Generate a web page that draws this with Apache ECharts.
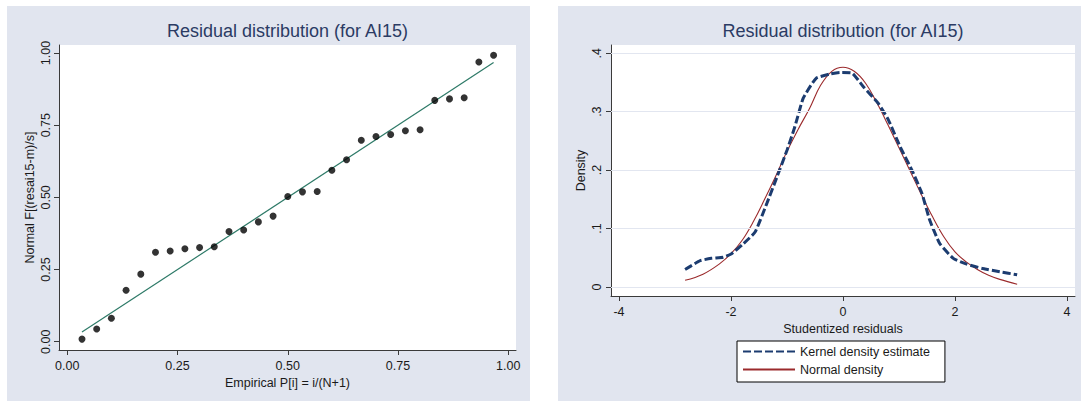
<!DOCTYPE html>
<html>
<head>
<meta charset="utf-8">
<script src="https://cdn.jsdelivr.net/npm/echarts@6/dist/echarts.min.js"></script>
<style>
html,body{margin:0;padding:0;background:#fff;}
#chart{width:1081px;height:401px;}
</style>
</head>
<body>
<div id="chart"></div>
<script>
// ---- Data ----
const titleText = 'Residual distribution (for AI15)';

// Left panel: standardized normal probability plot
const empiricalP = [0.0333,0.0667,0.1000,0.1333,0.1667,0.2000,0.2333,0.2667,0.3000,0.3333,0.3667,0.4000,0.4333,0.4667,0.5000,0.5333,0.5667,0.6000,0.6333,0.6667,0.7000,0.7333,0.7667,0.8000,0.8333,0.8667,0.9000,0.9333,0.9667];
const normalF = [0.009,0.044,0.081,0.178,0.234,0.310,0.314,0.322,0.326,0.329,0.382,0.387,0.415,0.435,0.503,0.519,0.520,0.594,0.630,0.698,0.711,0.718,0.731,0.734,0.836,0.841,0.845,0.969,0.992];
const refLineX = [0.0333,0.9667];
const refLineY = [0.0333,0.9667];
const probTicks = [0,0.25,0.5,0.75,1];
const probTickLabels = ['0.00','0.25','0.50','0.75','1.00'];

// Right panel: kernel density vs normal density
const kdeX = [-2.82,-2.55,-2.35,-2.14,-1.99,-1.78,-1.57,-1.36,-1.18,-1.00,-0.86,-0.71,-0.48,-0.23,-0.05,0.16,0.36,0.63,0.81,1.02,1.23,1.41,1.55,1.73,1.97,2.21,2.50,2.80,3.11];
const kdeY = [0.030,0.045,0.049,0.051,0.057,0.074,0.094,0.143,0.188,0.234,0.274,0.323,0.357,0.3645,0.367,0.366,0.343,0.314,0.286,0.240,0.200,0.160,0.114,0.074,0.049,0.039,0.0315,0.026,0.021];
const normX = [-2.82,-2.5,-2.2,-2.0,-1.8,-1.6,-1.4,-1.2,-1.0,-0.8,-0.6,-0.4,-0.2,0,0.2,0.4,0.6,0.8,1.0,1.2,1.4,1.6,1.8,2.0,2.2,2.4,2.6,2.8,3.11];
const normY = [0.0115,0.022,0.040,0.057,0.080,0.112,0.150,0.190,0.232,0.270,0.305,0.345,0.369,0.376,0.369,0.349,0.316,0.278,0.238,0.198,0.158,0.120,0.086,0.060,0.043,0.030,0.020,0.013,0.0046];
const resTicks = [-4,-2,0,2,4];
const resTickLabels = ['-4','-2','0','2','4'];
const densTicks = [0,0.1,0.2,0.3,0.4];
const densTickLabels = ['0','.1','.2','.3','.4'];
const legendNames = ['Kernel density estimate','Normal density'];

// ---- Styles ----
const FONT = '"Liberation Sans", Arial, Helvetica, sans-serif';
const panelBg = '#e1e5ef';
const titleColor = '#2b3b64';
const textColor = '#1a1a1a';
const axisColor = '#3a3a3a';
const fs = 12.5;

function pairs(xs, ys){ return xs.map((x,i)=>[x, ys[i]]); }
function lab(ticks, labels){ return v => { const i = ticks.findIndex(t => Math.abs(t - v) < 1e-9); return i >= 0 ? labels[i] : ''; }; }

function axisCommon(){
  return {
    type: 'value',
    axisLine: {show: true, onZero: false, lineStyle: {color: axisColor, width: 1}},
    splitLine: {show: false},
    nameLocation: 'middle',
    nameTextStyle: {fontSize: fs, color: textColor, fontFamily: FONT},
  };
}

const chart = echarts.init(document.getElementById('chart'), null, {renderer: 'svg'});
const option = {
  animation: false,
  backgroundColor: '#ffffff',
  textStyle: {fontFamily: FONT},
  graphic: [
    {type: 'rect', z: -10, silent: true, shape: {x: 7, y: 6, width: 523, height: 395}, style: {fill: panelBg}},
    {type: 'rect', z: -10, silent: true, shape: {x: 558, y: 6, width: 523, height: 395}, style: {fill: panelBg}}
  ],
  title: [
    {text: titleText, left: 287.5, top: 22, textAlign: 'center', padding: 0,
     textStyle: {fontSize: 18, fontWeight: 'normal', color: titleColor, fontFamily: FONT}},
    {text: titleText, left: 843, top: 22, textAlign: 'center', padding: 0,
     textStyle: {fontSize: 18, fontWeight: 'normal', color: titleColor, fontFamily: FONT}}
  ],
  grid: [
    {left: 59, top: 45, width: 457, height: 305, show: true, backgroundColor: '#ffffff', borderWidth: 0},
    {left: 611, top: 45, width: 464, height: 251, show: true, backgroundColor: '#ffffff', borderWidth: 0}
  ],
  xAxis: [
    Object.assign(axisCommon(), {
      gridIndex: 0, min: -0.0188, max: 1.0175,
      axisTick: {show: true, customValues: probTicks, length: 5, lineStyle: {color: axisColor}},
      axisLabel: {customValues: probTicks, formatter: lab(probTicks, probTickLabels), fontSize: fs, color: textColor, margin: 9, fontFamily: FONT},
      name: 'Empirical P[i] = i/(N+1)', nameGap: 22
    }),
    Object.assign(axisCommon(), {
      gridIndex: 1, min: -4.143, max: 4.143,
      axisTick: {show: true, customValues: resTicks, length: 5, lineStyle: {color: axisColor}},
      axisLabel: {customValues: resTicks, formatter: lab(resTicks, resTickLabels), fontSize: fs, color: textColor, margin: 9, fontFamily: FONT},
      name: 'Studentized residuals', nameGap: 22
    })
  ],
  yAxis: [
    Object.assign(axisCommon(), {
      gridIndex: 0, min: -0.0287, max: 1.0277,
      axisTick: {show: true, customValues: probTicks, length: 5, lineStyle: {color: axisColor}},
      axisLabel: {customValues: probTicks, formatter: lab(probTicks, probTickLabels), rotate: 90, fontSize: fs, color: textColor, margin: 7, fontFamily: FONT},
      name: 'Normal F[(resai15-m)/s]', nameGap: 23
    }),
    Object.assign(axisCommon(), {
      gridIndex: 1, min: -0.0154, max: 0.414,
      axisTick: {show: true, customValues: densTicks, length: 5, lineStyle: {color: axisColor}},
      axisLabel: {customValues: densTicks, formatter: lab(densTicks, densTickLabels), rotate: 90, fontSize: fs, color: textColor, margin: 8, fontFamily: FONT},
      name: 'Density', nameGap: 24
    })
  ],
  legend: {
    data: legendNames,
    orient: 'vertical',
    left: 737, top: 341,
    itemWidth: 52, itemHeight: 14, itemGap: 5,
    padding: [4, 15, 6, 5],
    borderColor: '#000', borderWidth: 1, backgroundColor: '#ffffff',
    itemStyle: {opacity: 0, borderWidth: 0},
    textStyle: {fontSize: fs, color: textColor, fontFamily: FONT},
    selectedMode: false
  },
  series: [
    {
      name: 'Fitted', type: 'line', xAxisIndex: 0, yAxisIndex: 0,
      data: pairs(refLineX, refLineY), symbol: 'none', silent: true,
      lineStyle: {color: '#2e7a68', width: 1.2}, z: 2
    },
    {
      name: 'Points', type: 'scatter', xAxisIndex: 0, yAxisIndex: 0,
      data: pairs(empiricalP, normalF), symbol: 'circle', symbolSize: 7,
      itemStyle: {color: '#000000'}, z: 3
    },
    {
      name: 'grid', type: 'line', xAxisIndex: 1, yAxisIndex: 1, data: [], z: 1, silent: true,
      markLine: {
        silent: true, symbol: 'none', label: {show: false}, animation: false,
        lineStyle: {color: '#e2e6f0', type: 'solid', width: 1.2},
        data: densTicks.map(v => ({yAxis: v}))
      }
    },
    {
      name: legendNames[1], type: 'line', xAxisIndex: 1, yAxisIndex: 1,
      data: pairs(normX, normY), symbol: 'none', smooth: 0.4,
      lineStyle: {color: '#9b2a2c', width: 1.1}, itemStyle: {color: '#9b2a2c'}, z: 3
    },
    {
      name: legendNames[0], type: 'line', xAxisIndex: 1, yAxisIndex: 1,
      data: pairs(kdeX, kdeY), symbol: 'none', smooth: 0.15,
      lineStyle: {color: '#1c3c70', width: 3, type: [8, 3]}, itemStyle: {color: '#1c3c70'}, z: 4
    }
  ]
};
chart.setOption(option);
</script>
</body>
</html>
